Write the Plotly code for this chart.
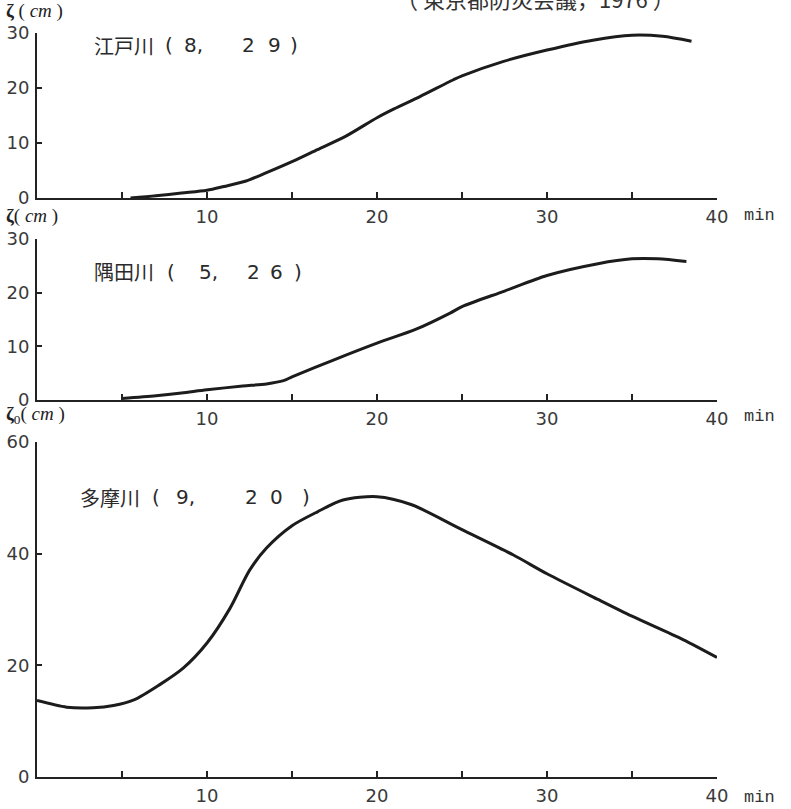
import plotly.graph_objects as go

# ---- data ----
edo_t = [5.5, 7, 8.5, 10, 11, 12.3, 13.5, 15, 16.5, 18.2, 20, 21, 22.5, 24.5, 25, 27.4, 30, 32.7, 35, 36.8, 38.5]
edo_z = [0, 0.4, 0.9, 1.4, 2.1, 3.1, 4.6, 6.6, 8.8, 11.3, 14.6, 16.2, 18.4, 21.5, 22.2, 24.8, 26.9, 28.7, 29.6, 29.4, 28.5]

sumida_t = [5, 7, 8.5, 10, 12.1, 13.5, 14.5, 15, 17.4, 20, 22.3, 24.3, 25, 27.5, 30, 33, 35, 36.5, 38.2]
sumida_z = [0.3, 0.8, 1.3, 1.9, 2.6, 3.0, 3.6, 4.3, 7.4, 10.6, 13.2, 16.2, 17.4, 20.3, 23.2, 25.4, 26.3, 26.3, 25.8]

tama_t = [0, 1.75, 3.3, 4.5, 5.7, 7.2, 8.6, 10, 11.35, 12.5, 13.5, 15, 16.5, 18, 20, 22, 25, 28, 30, 33, 35, 38, 40]
tama_z = [13.7, 12.5, 12.4, 12.8, 13.8, 16.5, 19.5, 24.0, 30.2, 37.0, 41.0, 45.0, 47.5, 49.6, 50.2, 48.8, 44.3, 39.8, 36.4, 31.8, 28.8, 24.6, 21.4]

# panel titles split into river name and the two numbers
river_names = ["江戸川", "隅田川", "多摩川"]
title_numbers = [["(", "8,", "2", "9", ")"], ["(", "5,", "2", "6", ")"], ["(", "9,", "2", "0", ")"]]
y_labels = ["<b>ζ</b> ( <i>cm</i> )", "<b>ζ</b>( <i>cm</i> )", "<b>ζ</b><sub>0</sub>( <i>cm</i> )"]
y_ticks = [[0, 10, 20, 30], [0, 10, 20, 30], [0, 20, 40, 60]]
x_tickvals = [10, 20, 30, 40]
x_minor_step = 5
source_text = "（ 東京都防災会議，1976 ）"

W, H = 791, 809
L, R = 37, 717
PW = R - L

def dom(top_px, bot_px):
    return [1 - bot_px / H, 1 - top_px / H]

def px_x(x):
    return (x - L) / PW

def px_y(y):
    return 1 - y / H

domains = [dom(33, 198), dom(239, 400), dom(442, 777)]

fig = go.Figure()
series = [(edo_t, edo_z), (sumida_t, sumida_z), (tama_t, tama_z)]
for i, (t, z) in enumerate(series):
    k = "" if i == 0 else str(i + 1)
    fig.add_trace(go.Scatter(x=t, y=z, mode="lines",
                             line=dict(color="#1c1c1c", width=3, shape="spline", smoothing=0.8),
                             xaxis="x" + k, yaxis="y" + k, showlegend=False, hoverinfo="skip"))

tickfont = dict(family="DejaVu Sans", size=18, color="#3a3a3a")
layout = dict(
    width=W, height=H, paper_bgcolor="white", plot_bgcolor="white",
    margin=dict(l=L, r=W - R, t=0, b=0, autoexpand=False), showlegend=False,
)
for i in range(3):
    k = "" if i == 0 else str(i + 1)
    yt = y_ticks[i]
    layout["xaxis" + k] = dict(
        domain=[0, 1], range=[0, 40], anchor="y" + k, automargin=False,
        showgrid=False, zeroline=False, showline=True, linecolor="#222", linewidth=2,
        ticks="inside", ticklen=6, tickwidth=2, tickcolor="#222",
        tickvals=x_tickvals, ticktext=[str(v) for v in x_tickvals], tickfont=tickfont, ticklabelstandoff=1,
        minor=dict(ticks="inside", tick0=0, dtick=x_minor_step, ticklen=6, tickwidth=2,
                   tickcolor="#222", showgrid=False),
    )
    layout["yaxis" + k] = dict(
        domain=domains[i], range=[yt[0], yt[-1]], anchor="x" + k, automargin=False,
        showgrid=False, zeroline=False, showline=True, linecolor="#222", linewidth=2,
        ticks="inside", ticklen=5, tickwidth=2, tickcolor="#222",
        tickvals=yt, ticktext=[str(v) for v in yt], tickfont=tickfont, ticklabelstandoff=2,
    )
fig.update_layout(**layout)

annots = []
label_px = [11, 216, 415]
title_y = [45, 272, 497]
name_x = [92, 92, 78]
num_x = [[163, 182, 240, 266, 288], [165, 197, 245, 268, 292], [150, 174, 243, 268, 300]]
for i in range(3):
    annots.append(dict(xref="paper", yref="paper", x=px_x(4), y=px_y(label_px[i]),
                       xanchor="left", yanchor="middle", showarrow=False,
                       text=y_labels[i],
                       font=dict(family="Liberation Serif", size=19, color="#222")))
    annots.append(dict(xref="paper", yref="paper", x=px_x(name_x[i]), y=px_y(title_y[i]),
                       xanchor="left", yanchor="middle", showarrow=False,
                       text=river_names[i],
                       font=dict(family="Noto Sans CJK JP", size=20, color="#2a2a2a")))
    for tok, xx in zip(title_numbers[i], num_x[i]):
        annots.append(dict(xref="paper", yref="paper", x=px_x(xx), y=px_y(title_y[i]),
                           xanchor="left", yanchor="middle", showarrow=False, text=tok,
                           font=dict(family="DejaVu Sans", size=20, color="#2a2a2a")))
# "min" unit labels
for ypx in [215, 416, 797]:
    annots.append(dict(xref="paper", yref="paper", x=px_x(742), y=px_y(ypx),
                       xanchor="left", yanchor="middle", showarrow=False, text="min",
                       font=dict(family="Liberation Mono", size=17, color="#333")))
# source note, partly cut off at the top edge (as in the reference)
annots.append(dict(xref="paper", yref="paper", x=px_x(535), y=px_y(0), yshift=2,
                   xanchor="center", yanchor="middle", showarrow=False, text=source_text,
                   font=dict(family="Noto Sans CJK JP", size=22, color="#333")))
fig.update_layout(annotations=annots)

fig.write_html("out.html", config={"displayModeBar": False, "staticPlot": True},
               post_script="document.body.style.margin='0';document.body.style.overflow='hidden';")
